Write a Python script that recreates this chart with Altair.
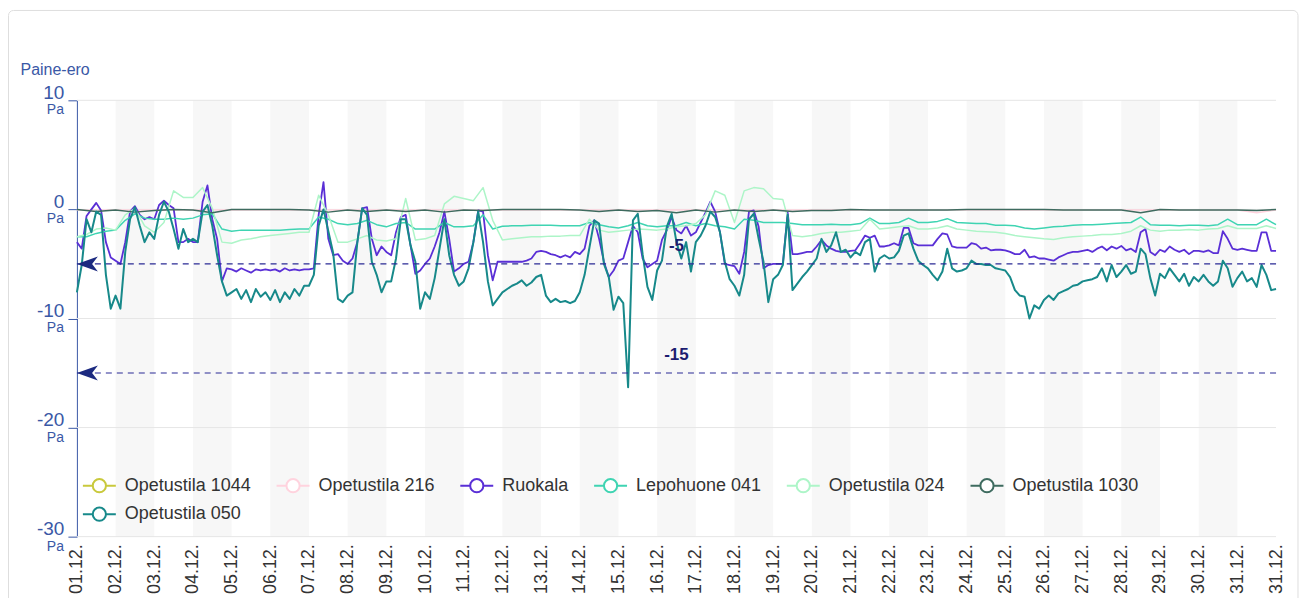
import altair as alt
import pandas as pd

# ---------------- data ----------------
series_names = ["Opetustila 1044", "Opetustila 216", "Ruokala", "Lepohuone 041",
                "Opetustila 024", "Opetustila 1030", "Opetustila 050"]
series_colors = ["#c9c93c", "#ffd3de", "#5a2fd6", "#3fd4b2", "#adf5c8", "#3e6b5f", "#17898a"]
series_widths = [1.5, 1.5, 1.8, 1.5, 1.5, 1.5, 2.0]

day_labels = ["01.12.", "02.12.", "03.12.", "04.12.", "05.12.", "06.12.", "07.12.", "08.12.",
              "09.12.", "10.12.", "11.12.", "12.12.", "13.12.", "14.12.", "15.12.", "16.12.",
              "17.12.", "18.12.", "19.12.", "20.12.", "21.12.", "22.12.", "23.12.", "24.12.",
              "25.12.", "26.12.", "27.12.", "28.12.", "29.12.", "30.12.", "31.12.", "31.12."]
band_start_days = [1, 3, 5, 7, 9, 11, 13, 15, 17, 19, 21, 23, 25, 27, 29]
y_ticks = [10, 0, -10, -20, -30]
plot_lines = [-5, -15]
plot_line_labels = ["-5", "-15"]

op1044_12h = []

op216_12h = [-0.05, -0.05, -0.05, -0.05, -0.05, -0.05, -0.05, -0.05, -0.05, -0.05,
             -0.05, -0.05, -0.05, -0.05, -0.05, -0.05, -0.05, -0.05, -0.05, -0.05,
             -0.05, -0.05, -0.05, -0.05, -0.05, -0.05, -0.05, -0.05, -0.05, -0.05,
             -0.05, -0.05, -0.05, -0.05, -0.05, -0.05, -0.05, -0.05, -0.05, -0.05,
             -0.05, -0.05, -0.05, -0.05, -0.05, -0.05, -0.05, -0.05, -0.05, -0.05,
             -0.05, -0.05, -0.05, -0.05, -0.05, -0.05, -0.05, -0.05, -0.05, -0.05,
             -0.05, -0.3, -0.05]

ruokala_3h = [
    -3.0, -3.6, -0.6, 0.0, 0.6, -0.1, -3.0, -4.4,
    -4.7, -5.0, -3.0, -0.2, 0.3, -0.5, -0.9, -0.7,
    -0.9, 0.4, 0.8, 0.4, 0.1, -3.0, -3.0, -2.7,
    -3.0, -3.0, 0.7, 2.2, -0.9, -2.7, -6.6, -5.4,
    -5.5, -5.7, -5.4, -5.6, -5.8, -5.5, -5.6, -5.5,
    -5.6, -5.5, -5.7, -5.4, -5.6, -5.5, -5.6, -5.5,
    -5.5, -5.4, -0.5, 2.5, -2.7, -4.2, -4.1, -4.7,
    -5.0, -4.5, -3.0, 0.1, 0.2, -2.7, -4.2, -3.4,
    -3.9, -4.2, -2.1, -0.7, -0.5, -3.3, -5.9, -5.6,
    -5.0, -4.5, -3.4, -2.1, -0.2, -2.7, -5.7, -5.4,
    -5.0, -4.8, -3.0, -0.1, -0.2, -4.2, -6.5, -4.8,
    -4.8, -4.8, -4.8, -4.8, -4.8, -4.7, -4.5, -3.9,
    -3.8, -3.9, -4.1, -4.2, -4.4, -4.2, -4.4, -3.9,
    -4.1, -3.6, -1.5, -1.0, -2.7, -4.8, -6.2, -5.6,
    -4.7, -4.5, -3.0, -1.5, -2.1, -4.5, -5.3, -5.0,
    -4.7, -2.8, -1.9, -0.7, -1.9, -2.2, -1.5, -2.4,
    -2.1, -1.2, -0.3, 0.7, -0.2, -2.1, -5.0, -5.1,
    -5.2, -5.9, -3.9, -0.2, -0.1, -1.6, -5.4, -5.1,
    -5.0, -5.0, -5.0, -0.3, -4.1, -4.1, -4.0, -3.9,
    -3.9, -3.4, -2.8, -3.3, -3.6, -3.8, -3.9, -3.9,
    -3.8, -3.75, -3.1, -2.4, -2.6, -2.4, -3.4, -3.4,
    -3.3, -3.1, -3.3, -1.7, -1.7, -3.1, -3.3, -3.3,
    -3.3, -3.3, -2.7, -2.2, -2.3, -3.4, -3.5, -3.5,
    -3.5, -3.1, -3.2, -3.6, -3.5, -3.75, -3.7, -3.7,
    -3.75, -3.9, -4.1, -4.1, -3.7, -4.4, -4.3, -4.5,
    -4.5, -4.6, -4.7, -4.4, -4.2, -4.0, -3.9, -3.9,
    -3.8, -3.7, -3.9, -3.6, -3.4, -3.75, -3.4, -3.6,
    -3.35, -3.75, -3.6, -3.9, -2.1, -1.8, -3.9, -4.2,
    -3.7, -3.9, -3.4, -3.7, -3.9, -3.7, -4.1, -3.8,
    -3.8, -3.9, -3.75, -4.0, -4.0, -2.0, -2.7, -3.6,
    -3.7, -3.6, -3.7, -3.8, -3.8, -2.1, -2.1, -3.8,
    -3.8]

lepohuone_6h = [
    -2.5, -2.5, -2.2, -2.0,
    -1.9, -1.0, -0.4, -0.8,
    -0.9, -0.9, -0.8, -0.9,
    -0.8, -0.5, -0.4, -1.8,
    -2.0, -1.9, -1.9, -1.9,
    -1.9, -1.9, -1.85, -1.8,
    -1.8, -0.7, -0.9, -1.3,
    -1.4, -1.3, -1.0, -1.4,
    -1.6, -1.3, -1.2, -1.8,
    -1.8, -1.8, -1.2, -1.6,
    -1.6, -1.5, -0.5, -1.8,
    -1.55, -1.5, -1.5, -1.45,
    -1.45, -1.45, -1.5, -1.5,
    -1.5, -1.2, -1.4, -1.6,
    -1.7, -1.5, -1.2, -1.5,
    -1.6, -1.5, -1.5, -1.2,
    -1.5, -1.3, -1.5, -1.6,
    -1.8, -0.9, -1.0, -1.2,
    -1.2, -1.2, -1.3, -1.4,
    -1.4, -1.4, -1.35, -1.4,
    -1.4, -1.3, -0.8, -1.3,
    -1.3, -1.2, -0.8, -1.2,
    -1.2, -1.1, -0.85, -1.2,
    -1.25, -1.3, -1.3, -1.45,
    -1.45, -1.5, -1.7, -1.8,
    -1.7, -1.6, -1.55, -1.45,
    -1.4, -1.4, -1.35, -1.3,
    -1.25, -1.2, -0.7, -1.4,
    -1.45, -1.45, -1.5, -1.45,
    -1.45, -1.5, -1.4, -0.9,
    -1.4, -1.4, -1.4, -0.9,
    -1.4]

op024_6h = [
    -2.5, -2.3, -1.8, -1.7,
    -1.9, -0.5, 0.1, -1.5,
    -2.1, -1.2, 1.7, 1.1,
    1.1, 2.0, 0.1, -3.0,
    -3.1, -2.8, -2.7, -2.5,
    -2.4, -2.3, -2.2, -2.1,
    -2.1, 1.3, -0.5, -3.0,
    -3.0, -2.7, -2.4, -2.8,
    -2.9, -2.7, 1.0, -2.8,
    -2.7, -2.4, 0.5, 1.2,
    1.0, 0.8, 2.0, -1.0,
    -2.8, -2.7, -2.6, -2.5,
    -2.5, -2.45, -2.45, -2.4,
    -2.4, -0.9, -1.9, -2.1,
    -2.0, -1.9, -1.8, -1.85,
    -1.9, -1.8, -1.6, -1.5,
    -1.3, -0.5, 1.7, 1.3,
    -1.2, 1.7, 2.0, 1.9,
    1.0, 0.9, -2.4, -2.5,
    -2.4, -2.2, -2.1, -2.1,
    -2.0, -1.9, -0.9, -1.8,
    -1.7, -1.6, -1.5, -1.8,
    -1.8, -1.7, -1.5, -1.8,
    -1.9, -2.0, -2.05, -2.1,
    -2.2, -2.4, -2.5, -2.6,
    -2.7, -2.75, -2.6, -2.5,
    -2.45, -2.4, -2.3, -2.3,
    -2.2, -2.0, -1.5, -1.9,
    -2.0, -1.9, -1.9, -1.85,
    -1.9, -1.8, -1.75, -1.5,
    -1.75, -1.75, -1.75, -1.5,
    -1.75]

op1030_12h = [0.0, -0.2, -0.05, -0.25, -0.1, 0.0, -0.05, -0.3, 0.0, 0.0,
              0.0, 0.0, -0.05, -0.25, -0.05, -0.2, -0.05, -0.2, -0.05, -0.25,
              -0.05, -0.1, 0.0, 0.0, 0.0, 0.0, -0.05, -0.2, -0.05, -0.2,
              -0.1, -0.3, -0.05, -0.25, -0.05, -0.2, -0.05, -0.2, -0.1, -0.1,
              0.0, -0.05, -0.05, -0.05, -0.05, -0.05, 0.0, 0.0, 0.0, 0.0,
              0.0, -0.05, -0.05, -0.05, -0.05, -0.3, 0.0, -0.05, -0.05, -0.05,
              -0.05, -0.1, 0.0]

op050_3h = [
    -7.6, -5.1, -0.9, -2.1, -0.2, -0.5, -6.0, -9.1,
    -7.9, -9.1, -3.9, -0.9, 0.2, -1.5, -3.0, -2.1,
    -2.7, -0.5, 0.7, -0.2, -1.8, -3.6, -1.8, -3.0,
    -2.7, -3.0, -0.2, 0.4, -1.5, -4.2, -6.6, -7.9,
    -7.6, -7.3, -8.2, -7.4, -8.5, -7.3, -8.0, -7.6,
    -8.3, -7.4, -8.5, -7.6, -8.2, -7.3, -7.9, -7.0,
    -7.0, -6.0, -1.5, 0.0, -2.0, -4.0, -8.2, -8.5,
    -7.9, -7.6, -3.0, 0.1, -0.5, -4.8, -6.0, -7.6,
    -6.6, -6.6, -4.5, -0.9, -0.9, -3.3, -4.8, -9.1,
    -7.6, -8.2, -6.3, -3.6, -0.9, -4.2, -6.0, -7.0,
    -6.6, -5.4, -3.0, -0.2, -3.0, -6.6, -8.8, -8.2,
    -7.6, -7.3, -7.0, -6.8, -6.5, -7.0, -6.7, -6.2,
    -6.0, -7.9, -8.5, -8.2, -8.5, -8.4, -8.6, -8.4,
    -7.6, -6.0, -3.5, -1.0, -1.3, -5.0, -6.2, -9.2,
    -8.0, -8.6, -16.3, -1.0, -0.4, -4.1, -7.1, -8.3,
    -5.6, -4.7, -1.6, -0.4, -3.0, -4.5, -3.0, -5.7,
    -3.0, -2.4, -1.5, -0.2, -0.7, -2.1, -4.8, -6.4,
    -7.0, -7.9, -6.0, -0.9, -0.4, -2.7, -4.8, -8.5,
    -6.4, -6.0, -5.1, -0.5, -7.4, -6.8, -6.2, -5.7,
    -5.1, -4.5, -2.7, -3.9, -3.3, -2.1, -3.9, -3.7,
    -4.4, -3.9, -4.2, -3.0, -2.7, -5.7, -4.5, -4.2,
    -4.5, -4.4, -3.8, -2.4, -2.2, -3.6, -4.7, -5.1,
    -5.4, -6.0, -6.5, -5.7, -3.6, -5.4, -5.7, -5.6,
    -5.4, -4.7, -5.0, -5.0, -5.1, -5.1, -5.4, -5.5,
    -5.6, -6.2, -7.4, -7.9, -8.0, -10.0, -8.8, -9.1,
    -8.3, -7.9, -8.3, -7.7, -7.5, -7.3, -7.0, -6.9,
    -6.6, -6.5, -6.4, -6.2, -5.4, -6.6, -5.1, -6.2,
    -5.7, -5.1, -5.9, -5.7, -3.6, -4.1, -6.3, -7.9,
    -5.9, -6.3, -5.4, -6.0, -6.6, -5.9, -7.0, -6.2,
    -6.6, -6.0, -6.6, -7.0, -6.6, -4.7, -5.4, -7.1,
    -6.3, -5.7, -6.6, -6.3, -7.1, -5.1, -6.0, -7.4,
    -7.3]

series_data = [
    ("Opetustila 1044", op1044_12h, 12),
    ("Opetustila 216", op216_12h, 12),
    ("Ruokala", ruokala_3h, 3),
    ("Lepohuone 041", lepohuone_6h, 6),
    ("Opetustila 024", op024_6h, 6),
    ("Opetustila 1030", op1030_12h, 12),
    ("Opetustila 050", op050_3h, 3),
]

rows = []
for name, vals, step in series_data:
    for i, v in enumerate(vals):
        rows.append({"series": name, "day": i * step / 24.0, "value": v})
df = pd.DataFrame(rows)

bands_df = pd.DataFrame({"start": band_start_days, "end": [d + 1 for d in band_start_days]})
ticks_df = pd.DataFrame({"v": y_ticks, "unit": ["Pa"] * len(y_ticks)})
lines_df = pd.DataFrame({"v": plot_lines, "label": plot_line_labels})
frame_df = pd.DataFrame({"a": [0]})

# ---------------- styling ----------------
FONT = "Liberation Sans"
AXIS_BLUE = "#3a58a6"
NAVY = "#1c2a80"

label_expr = "[" + ",".join("'%s'" % s for s in day_labels) + "][round(datum.value)]"

x_scale = alt.Scale(domain=[0, 31], nice=False, zero=False)
y_scale = alt.Scale(domain=[-30, 10], nice=False, zero=False)

x_axis = alt.Axis(values=list(range(len(day_labels))), labelExpr=label_expr, labelAngle=270,
                  labelFontSize=18, labelColor="#333333", labelPadding=7, ticks=False,
                  domain=False, grid=False, title=None, labelOverlap=False,
                  labelSeparation=0, labelBound=False, labelFlush=False)
y_axis = alt.Axis(values=y_ticks, labelExpr="'' + datum.value", title="Paine-ero",
                  titleAngle=0, titleAlign="left",
                  titleBaseline="alphabetic", titleX=-57, titleY=-26, titleColor=AXIS_BLUE,
                  titleFontSize=16, titleFontWeight="normal", labelFontSize=19,
                  labelColor=AXIS_BLUE, labelBaseline="alphabetic", labelOffset=-2,
                  labelPadding=4, tickSize=9, tickColor=AXIS_BLUE, domainColor=AXIS_BLUE,
                  domainWidth=1, grid=False, labelOverlap=False)


def X(field):
    return alt.X(field, type="quantitative", scale=x_scale, axis=x_axis)


def Y(field):
    return alt.Y(field, type="quantitative", scale=y_scale, axis=y_axis)


def XD(value):
    return alt.XDatum(value, type="quantitative", scale=x_scale, axis=x_axis)


legend_symbol = ("M-1,0L-0.4,0M0.4,0L1,0M-0.4,0A0.4,0.4,0,1,1,0.4,0"
                 "A0.4,0.4,0,1,1,-0.4,0Z")
color_enc = alt.Color(
    "series:N",
    scale=alt.Scale(domain=series_names, range=series_colors),
    legend=alt.Legend(title=None, orient="none", legendX=5, legendY=368, columns=6,
                      direction="horizontal", values=series_names,
                      symbolType=legend_symbol, symbolSize=1089, symbolStrokeWidth=2,
                      symbolFillColor="white", labelFontSize=18, labelColor="#333333",
                      labelFont=FONT, labelOffset=8, columnPadding=21, rowPadding=0,
                      padding=0),
)

frame = alt.Chart(frame_df).mark_rect(fill="transparent", stroke="#dedede", strokeWidth=1,
                                      cornerRadius=5).encode(
    x=alt.value(-68.5), x2=alt.value(1223), y=alt.value(-90), y2=alt.value(560))

bands = alt.Chart(bands_df).mark_rect(color="#f7f7f7").encode(x=X("start"), x2="end")

grid = alt.Chart(ticks_df).mark_rule(color="#e6e6e6", strokeWidth=1).encode(y=Y("v"))

line_layers = []
for name, w in zip(series_names, series_widths):
    line_layers.append(
        alt.Chart(df).transform_filter(alt.datum.series == name)
        .mark_line(strokeWidth=w, strokeJoin="round")
        .encode(x=X("day"), y=Y("value"), color=color_enc)
    )

ref_rules = alt.Chart(lines_df).mark_rule(color="#2b2b95", strokeDash=[6, 5],
                                          strokeWidth=1.2).encode(y=Y("v"))

arrow_path = "M-1,0L1,-0.72L0.45,0L1,0.72Z"
arrows = alt.Chart(lines_df).mark_point(shape=arrow_path, filled=True, size=441, opacity=1,
                                        color=NAVY, xOffset=10.5).encode(
    x=XD(0), y=Y("v"))

ref_labels = alt.Chart(lines_df).mark_text(fontSize=17, fontWeight="bold", color="#1c1c70",
                                           dy=-18, align="center", baseline="middle").encode(
    x=XD(15.5), y=Y("v"), text="label:N")

pa_labels = alt.Chart(ticks_df).mark_text(fontSize=14, color=AXIS_BLUE, align="right",
                                          baseline="top", dy=3).encode(
    x=alt.value(-13), y=Y("v"), text="unit:N")

chart = alt.layer(frame, bands, grid, *line_layers, ref_rules, arrows, ref_labels,
                  pa_labels).properties(
    width=1201, height=437,
    autosize=alt.AutoSizeParams(type="none"),
    padding={"left": 69, "top": 92, "right": 24, "bottom": 70},
).configure(font=FONT).configure_view(strokeWidth=0)

chart.save("out.html", embed_options={"renderer": "svg", "actions": False})
